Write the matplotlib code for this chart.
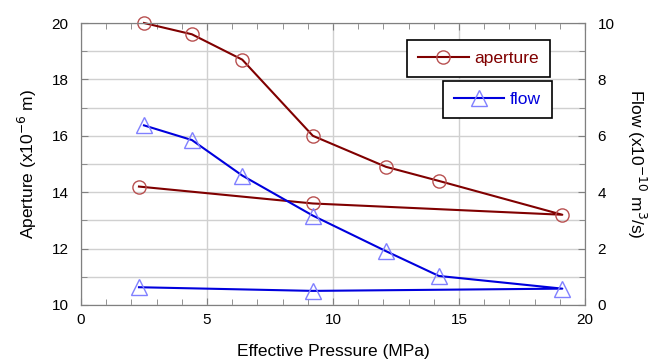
import matplotlib.pyplot as plt
from matplotlib.ticker import MultipleLocator

plt.rcParams['font.family'] = ['Liberation Sans', 'DejaVu Sans']

# данные: загрузка и разгрузка (путь по точкам как на графике)
pressure_ap = [2.5, 4.4, 6.4, 9.2, 12.1, 14.2, 19.1, 9.2, 2.3]
aperture = [20.0, 19.6, 18.7, 16.0, 14.9, 14.4, 13.2, 13.6, 14.2]

pressure_fl = [2.5, 4.4, 6.4, 9.2, 12.1, 14.2, 19.1, 9.2, 2.3]
flow = [6.37, 5.85, 4.59, 3.17, 1.91, 1.03, 0.58, 0.5, 0.63]

fig = plt.figure(figsize=(6.49, 3.6), dpi=100)
ax = fig.add_axes([0.1248, 0.1528, 0.7766, 0.7833])
ax2 = ax.twinx()

ap_line, = ax.plot(pressure_ap, aperture, color='#800000', lw=1.5, clip_on=False,
                   marker='o', ms=9.5, mfc='none', mec='#b85050', mew=1.0)
fl_line, = ax2.plot(pressure_fl, flow, color='#0000dd', lw=1.5, clip_on=False,
                    marker='^', ms=11, mfc='none', mec='#8080ff', mew=1.0)

ax.set_xlim(0, 20)
ax.set_ylim(10, 20)
ax2.set_ylim(0, 10)

ax.xaxis.set_major_locator(MultipleLocator(5))
ax.xaxis.set_minor_locator(MultipleLocator(1))
ax.yaxis.set_major_locator(MultipleLocator(2))
ax.yaxis.set_minor_locator(MultipleLocator(1))
ax2.yaxis.set_major_locator(MultipleLocator(2))
ax2.yaxis.set_minor_locator(MultipleLocator(1))

ax.grid(True, which='major', axis='x', color='#d0d0d0', lw=1)
ax.grid(True, which='both', axis='y', color='#d0d0d0', lw=1)
ax.set_axisbelow(True)

for a in (ax, ax2):
    for s in a.spines.values():
        s.set_color('#808080')
    a.tick_params(which='both', direction='in', color='#808080', labelsize=11, pad=9)
    a.tick_params(which='major', length=5)
    a.tick_params(which='minor', length=4)
ax.tick_params(which='both', top=True, right=False)
ax.tick_params(axis='x', pad=6)
ax2.tick_params(which='both', left=False, right=True)

ax.set_xlabel('Effective Pressure (MPa)', fontsize=12.5, labelpad=12)
ax.set_ylabel('Aperture (x10$^{-6}$ m)', fontsize=12.5, labelpad=9)
ax2.set_ylabel('Flow (x10$^{-10}$ m$^{3}$/s)', fontsize=12.5, rotation=270, labelpad=24)

leg_kw = dict(loc='upper right', fancybox=False, edgecolor='black', framealpha=1,
              fontsize=12.5, handlelength=2.9, handletextpad=0.35, borderpad=0.62,
              borderaxespad=0)
leg1 = ax2.legend([ap_line], ['aperture'], bbox_to_anchor=(0.9306, 0.9397), **leg_kw)
leg1.get_frame().set_linewidth(1.2)
leg1.get_texts()[0].set_color('#800000')
ax2.add_artist(leg1)
leg2 = ax2.legend([fl_line], ['flow'], bbox_to_anchor=(0.9345, 0.794), **leg_kw)
leg2.get_frame().set_linewidth(1.2)
leg2.get_texts()[0].set_color('#0000dd')

fig.savefig('out.png', dpi=100)
plt.close()
